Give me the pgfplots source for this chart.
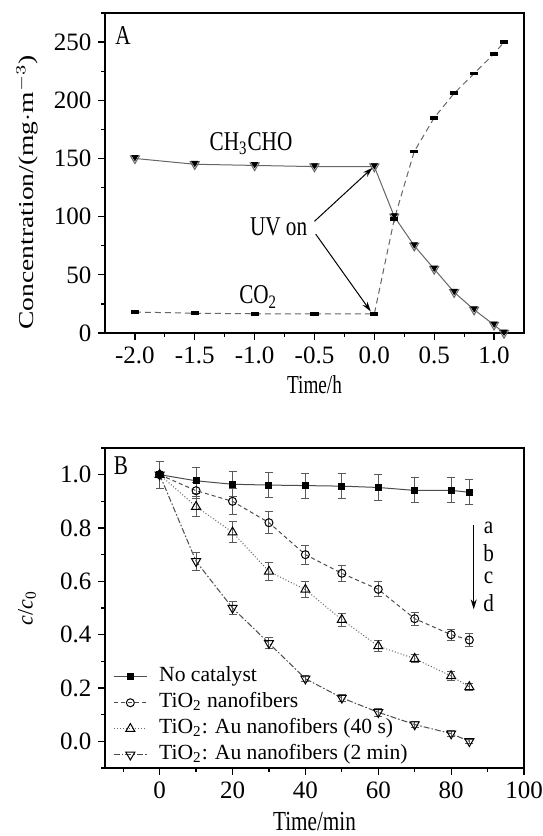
\documentclass[border=0pt]{standalone}
\usepackage{fontspec}
\setmainfont{Liberation Serif}
\usepackage{pgfplots}
\usepackage{pgfplotstable}
\pgfplotsset{compat=1.18}
\usetikzlibrary{arrows.meta}

% panel A
\pgfplotstableread{
t c
-2.0 150
-1.5 145
-1.0 144
-0.5 143
0.0 143
0.1667 100
0.3333 75
0.5 55
0.6667 35
0.8333 20
1.0 7
1.0833 0
}\tabCH
\pgfplotstableread{
t c
-2.0 18
-1.5 17
-1.0 16.5
-0.5 16.5
0.0 16.5
0.1667 98
0.3333 156
0.5 185
0.6667 206
0.8333 223
1.0 240
1.0833 250
}\tabCO

% panel B
\pgfplotstableread{
t y e
0 1.0 0.05
10 0.977 0.048
20 0.964 0.047
30 0.961 0.048
40 0.959 0.047
50 0.957 0.048
60 0.952 0.047
70 0.941 0.047
80 0.941 0.047
85 0.934 0.047
}\tabA
\pgfplotstableread{
t y e
0 1.0 0.0
10 0.94 0.03
20 0.90 0.048
30 0.82 0.04
40 0.70 0.036
50 0.63 0.03
60 0.57 0.028
70 0.46 0.025
80 0.40 0.02
85 0.38 0.025
}\tabB
\pgfplotstableread{
t y e
0 1.0 0.0
10 0.88 0.037
20 0.784 0.04
30 0.637 0.033
40 0.569 0.03
50 0.456 0.025
60 0.357 0.02
70 0.31 0.015
80 0.245 0.015
85 0.204 0.012
}\tabC
\pgfplotstableread{
t y e
0 1.0 0.0
10 0.675 0.033
20 0.50 0.025
30 0.368 0.02
40 0.235 0.012
50 0.163 0.012
60 0.109 0.015
70 0.063 0.012
80 0.029 0.012
85 0.0 0.008
}\tabD

\newcommand{\txt}{\fontsize{10.6}{12.5}\selectfont}
\pgfplotsset{
  panel/.style={
    scale only axis, width=209.5pt, height=160pt,
    anchor=south west,
    axis line style={line width=0.6pt},
    tick pos=left, tick align=outside,
    major tick length=3.3pt, minor tick length=1.8pt,
    every tick/.style={black, line width=0.6pt},
    tick label style={font=\fontsize{12.5}{14}\selectfont},
    label style={font=\txt},
    /pgf/number format/assume math mode=true,
  },
  errs/.style={error bars/.cd, y dir=both, y explicit,
    error bar style={black!65, line width=0.5pt, solid},
    error mark options={rotate=90, mark size=2pt, black!65, line width=0.5pt, solid}},
}
\tikzset{ann/.style={font=\txt, yscale=1.28, inner sep=0.5pt}}

\begin{document}
\begin{tikzpicture}
\path[use as bounding box] (0,0) rectangle (271pt,418pt);

\begin{axis}[panel, at={(52.5pt,251.5pt)},
  xmin=-2.25, xmax=1.25, ymin=0, ymax=275,
  xtick={-2,-1.5,-1,-0.5,0,0.5,1},
  minor xtick={-1.75,-1.25,-0.75,-0.25,0.25,0.75},
  ytick={0,50,100,150,200,250},
  minor ytick={25,75,125,175,225,275},
  xticklabel style={/pgf/number format/.cd, fixed, fixed zerofill, precision=1},
  xlabel={Time/h},
  xlabel style={at={(axis description cs:0.5,-0.1625)}, anchor=center, yscale=1.35, inner sep=0pt, font=\fontsize{9.6}{12}\selectfont},
  ylabel={Concentration/(mg$\cdot$m$^{-3}$)},
  ylabel style={at={(axis description cs:-0.186,0.44)}, anchor=center, xscale=1.3},
]
\addplot[black!60, line width=0.5pt, mark=triangle, mark size=2.6pt,
  mark options={rotate=180, solid, fill=white, draw=black!60}] table[x=t, y=c] {\tabCH};
\addplot[only marks, mark=triangle*, mark size=1.7pt,
  mark options={rotate=180, yshift=-0.6pt, black}] table[x=t, y=c] {\tabCH};
\addplot[black!60, densely dashed, line width=0.5pt, mark=square*, mark size=1.8pt,
  mark options={solid, yscale=0.4, black}] table[x=t, y=c] {\tabCO};

\node[ann] at (axis cs:-1.03,163) {CH\textsubscript{3}CHO};
\node[ann] at (axis cs:-0.97,31) {CO\textsubscript{2}};
\node[ann] at (axis cs:-0.80,91.6) {UV on};
\draw[-{Stealth[length=5pt,width=3pt]}, line width=0.5pt] (axis cs:-0.50,96) -- (axis cs:-0.015,142);
\draw[-{Stealth[length=5pt,width=3pt]}, line width=0.5pt] (axis cs:-0.49,85) -- (axis cs:-0.03,18.5);
\node[ann, anchor=north west, inner sep=0pt] at (axis description cs:0.024,0.96) {A};
\end{axis}

\begin{axis}[panel, at={(52.5pt,34pt)},
  xmin=-15, xmax=100, ymin=-0.1, ymax=1.1,
  xtick={0,20,40,60,80,100},
  minor xtick={-10,10,30,50,70,90},
  ytick={0,0.2,0.4,0.6,0.8,1.0},
  minor ytick={-0.1,0.1,0.3,0.5,0.7,0.9,1.1},
  yticklabel style={/pgf/number format/.cd, fixed, fixed zerofill, precision=1},
  xlabel={Time/min},
  xlabel style={at={(axis description cs:0.5,-0.166)}, anchor=center, yscale=1.3, inner sep=0pt},
  ylabel={\textit{c}/\textit{c}\textsubscript{0}},
  ylabel style={at={(axis description cs:-0.186,0.5)}, anchor=center, font=\fontsize{11}{13}\selectfont},
  legend cell align=left,
  legend image code/.code={\draw[mark repeat=2, mark phase=2, #1]
    plot coordinates {(0pt,0pt) (8.25pt,0pt) (16.5pt,0pt)};
    \path (21.5pt,0pt);},
  legend style={at={(axis description cs:0.019,0.327)}, anchor=north west,
    draw=none, fill=none, inner sep=0pt, font=\fontsize{10.8}{12.5}\selectfont,
    row sep=0pt,
    nodes={inner sep=0.9pt, text height=8pt, text depth=3.2pt}},
]
\addplot[black!70, line width=0.5pt, mark=square*, mark size=1.5pt,
  mark options={solid, black}, errs] table[x=t, y=y, y error=e] {\tabA};
\addlegendentry{No catalyst}
\addplot[black!70, line width=0.5pt, dash pattern=on 2pt off 1.5pt, mark=o, mark size=2pt,
  mark options={solid, black}, errs] table[x=t, y=y, y error=e] {\tabB};
\addlegendentry{TiO\textsubscript{2} nanofibers}
\addplot[black!60, line width=0.5pt, densely dotted, mark=triangle, mark size=2.6pt,
  mark options={solid, black}, errs] table[x=t, y=y, y error=e] {\tabC};
\addlegendentry{TiO\textsubscript{2}: Au nanofibers (40 s)}
\addplot[black!70, line width=0.5pt, dash pattern=on 3pt off 1pt on 0.8pt off 1pt, mark=triangle, mark size=2.6pt,
  mark options={solid, black, rotate=180}, errs] table[x=t, y=y, y error=e] {\tabD};
\addlegendentry{TiO\textsubscript{2}: Au nanofibers (2 min)}

\draw[-{Stealth[length=5pt,width=3pt]}, line width=0.5pt] (axis cs:86.2,0.81) -- (axis cs:86.2,0.495);
\node[ann, yscale=0.9, inner sep=0pt] at (axis cs:90.3,0.80) {a};
\node[ann, yscale=0.9, inner sep=0pt] at (axis cs:90.3,0.707) {b};
\node[ann, yscale=0.9, inner sep=0pt] at (axis cs:90.3,0.614) {c};
\node[ann, yscale=0.9, inner sep=0pt] at (axis cs:90.3,0.52) {d};
\node[ann, anchor=north west, inner sep=0pt] at (axis description cs:0.02,0.975) {B};
\end{axis}
\end{tikzpicture}
\end{document}
